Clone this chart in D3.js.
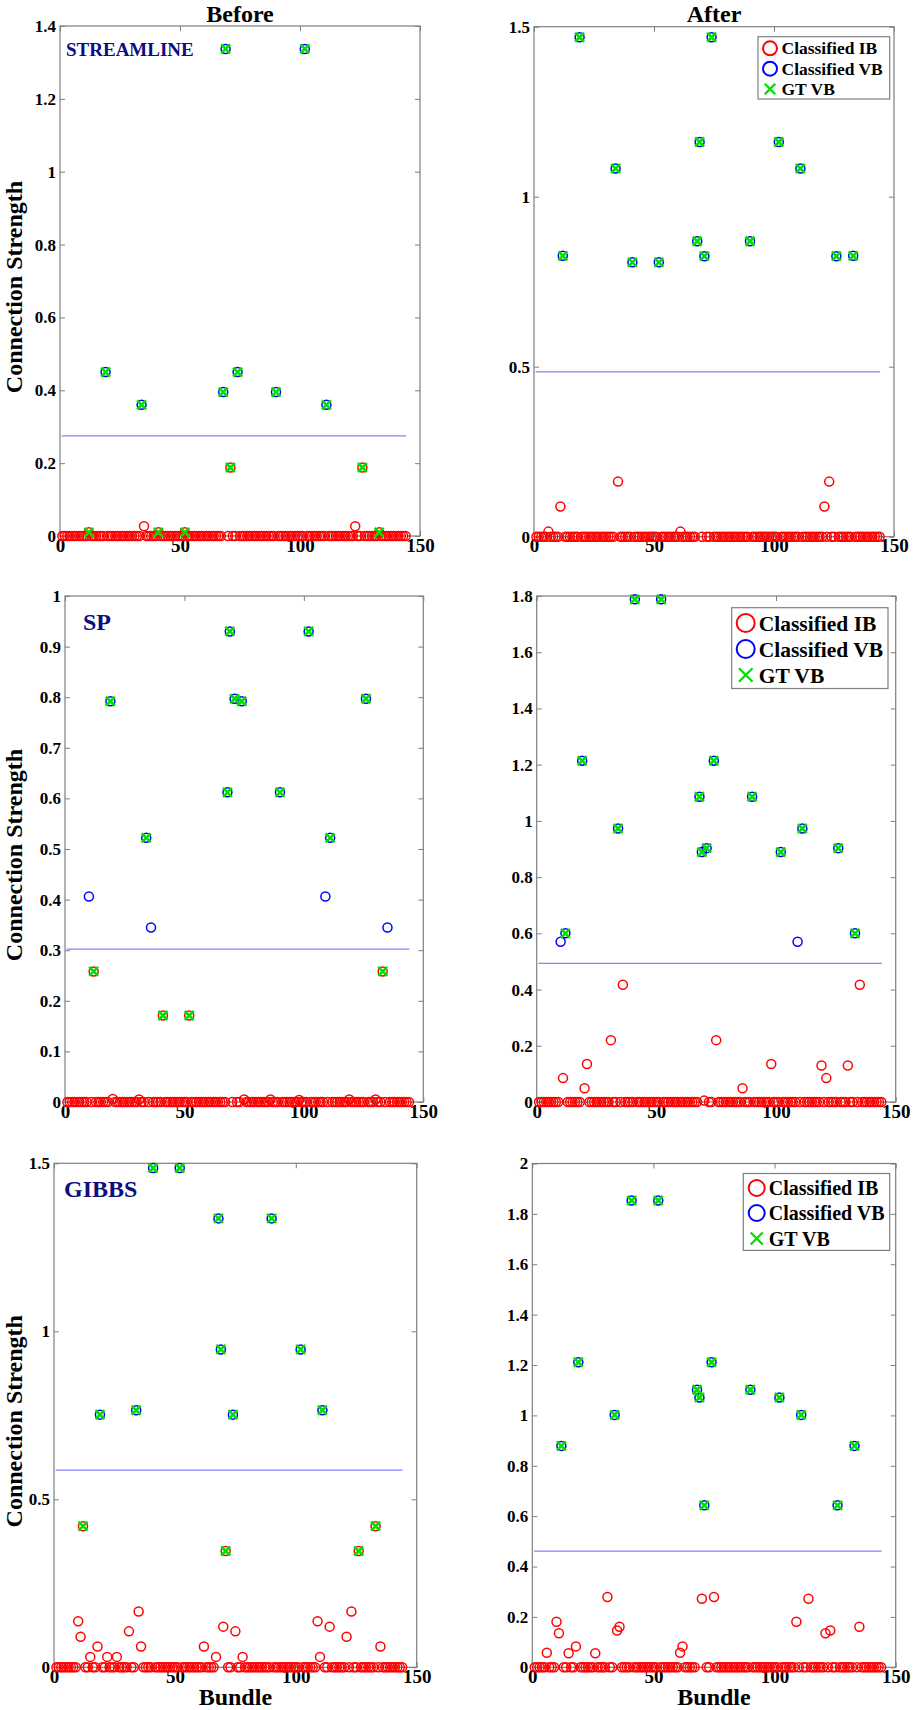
<!DOCTYPE html>
<html>
<head>
<meta charset="utf-8">
<script src="https://cdn.jsdelivr.net/npm/d3@7"></script>
<style>
  body { margin: 0; background: #fff; }
  .tick text { font-family: "Liberation Serif", serif; font-weight: bold; fill: #000; }
  .tick line { stroke: #7f7f7f; }
</style>
</head>
<body>
<script>
// page size
var w = 918;
var h = 1710;

// bundles run 1..144, any bundle not listed below sits at 0 as a classified IB
const nBundles = 144;
const xTicks = [0, 50, 100, 150];

// ---- STREAMLINE, before
const slBeforeVB = [[19, 0.45], [34, 0.36], [68, 0.395], [69, 1.337], [74, 0.45], [90, 0.395], [102, 1.337], [111, 0.36]];
const slBeforeMissed = [[12, 0.01], [41, 0.01], [52, 0.01], [71, 0.188], [126, 0.188], [133, 0.01]];
const slBeforeIB = [[35, 0.027], [123, 0.027]];
const slBeforeFalseVB = [];
const slBeforeThresh = 0.275;
const slBeforeTicks = [0, 0.2, 0.4, 0.6, 0.8, 1, 1.2, 1.4];

// ---- STREAMLINE, after
const slAfterVB = [[12, 0.826], [19, 1.469], [34, 1.083], [41, 0.807], [52, 0.807], [68, 0.869], [69, 1.161], [71, 0.825],
                   [74, 1.469], [90, 0.869], [102, 1.161], [111, 1.083], [126, 0.825], [133, 0.826]];
const slAfterMissed = [];
const slAfterIB = [[6, 0.015], [11, 0.089], [35, 0.162], [61, 0.015], [121, 0.089], [123, 0.162]];
const slAfterFalseVB = [];
const slAfterThresh = 0.485;
const slAfterTicks = [0, 0.5, 1, 1.5];

// ---- SP, before
const spBeforeVB = [[19, 0.792], [34, 0.522], [68, 0.612], [69, 0.93], [71, 0.797], [74, 0.792], [90, 0.612], [102, 0.93],
                    [111, 0.522], [126, 0.797]];
const spBeforeMissed = [[12, 0.258], [41, 0.171], [52, 0.171], [133, 0.258]];
const spBeforeIB = [[20, 0.006], [31, 0.005], [75, 0.005], [86, 0.005], [98, 0.004], [119, 0.005], [130, 0.005]];
const spBeforeFalseVB = [[10, 0.406], [36, 0.345], [109, 0.406], [135, 0.345]];
const spBeforeThresh = 0.302;
const spBeforeTicks = [0, 0.1, 0.2, 0.3, 0.4, 0.5, 0.6, 0.7, 0.8, 0.9, 1];

// ---- SP, after
const spAfterVB = [[12, 0.6], [19, 1.214], [34, 0.973], [41, 1.788], [52, 1.788], [68, 1.086], [69, 0.889], [71, 0.903],
                   [74, 1.214], [90, 1.086], [102, 0.889], [111, 0.973], [126, 0.903], [133, 0.6]];
const spAfterMissed = [];
const spAfterIB = [[11, 0.085], [20, 0.049], [21, 0.135], [31, 0.22], [36, 0.417], [70, 0.005], [75, 0.22], [86, 0.049],
                   [98, 0.135], [119, 0.13], [121, 0.085], [130, 0.13], [135, 0.417]];
const spAfterFalseVB = [[10, 0.57], [109, 0.57]];
const spAfterThresh = 0.493;
const spAfterTicks = [0, 0.2, 0.4, 0.6, 0.8, 1, 1.2, 1.4, 1.6, 1.8];

// ---- GIBBS, before
const gbBeforeVB = [[19, 0.752], [34, 0.765], [41, 1.486], [52, 1.486], [68, 1.336], [69, 0.946], [74, 0.752], [90, 1.336],
                    [102, 0.946], [111, 0.765]];
const gbBeforeMissed = [[12, 0.42], [71, 0.346], [126, 0.346], [133, 0.42]];
const gbBeforeIB = [[10, 0.137], [11, 0.091], [15, 0.031], [18, 0.062], [22, 0.031], [26, 0.031], [31, 0.107], [35, 0.166],
                    [36, 0.062], [62, 0.062], [67, 0.031], [70, 0.121], [75, 0.107], [78, 0.031], [109, 0.137], [110, 0.031],
                    [114, 0.121], [121, 0.091], [123, 0.166], [135, 0.062]];
const gbBeforeFalseVB = [];
const gbBeforeThresh = 0.587;
const gbBeforeTicks = [0, 0.5, 1, 1.5];

// ---- GIBBS, after
const gbAfterVB = [[12, 0.879], [19, 1.211], [34, 1.002], [41, 1.853], [52, 1.853], [68, 1.102], [69, 1.071], [71, 0.643],
                   [74, 1.211], [90, 1.102], [102, 1.071], [111, 1.002], [126, 0.643], [133, 0.879]];
const gbAfterMissed = [];
const gbAfterIB = [[6, 0.058], [10, 0.181], [11, 0.135], [15, 0.056], [18, 0.083], [26, 0.056], [31, 0.279], [35, 0.146],
                   [36, 0.161], [61, 0.058], [62, 0.083], [70, 0.272], [75, 0.279], [109, 0.181], [114, 0.272], [121, 0.135],
                   [123, 0.146], [135, 0.161]];
const gbAfterFalseVB = [];
const gbAfterThresh = 0.461;
const gbAfterTicks = [0, 0.2, 0.4, 0.6, 0.8, 1, 1.2, 1.4, 1.6, 1.8, 2];

const legendNames = ["Classified IB", "Classified VB", "GT VB"];

// colours
const red = "#ff0000", blue = "#0000ff", green = "#00e000", threshColor = "#8585ff", navy = "#0c0c84", frame = "#7f7f7f";
const serif = "'Liberation Serif', serif";

// panel frames + the data that goes in each
const panels = [
  { vb: slBeforeVB, missed: slBeforeMissed, ib: slBeforeIB, fvb: slBeforeFalseVB, thresh: slBeforeThresh, yTicks: slBeforeTicks,
    box: [60, 26, 420, 536], title: "Before", label: "STREAMLINE", lab: [6, 30, 19], yLabel: true },
  { vb: slAfterVB, missed: slAfterMissed, ib: slAfterIB, fvb: slAfterFalseVB, thresh: slAfterThresh, yTicks: slAfterTicks,
    box: [534, 26.7, 894, 536.7], title: "After",
    legend: { gapR: 4.3, gapT: 10, w: 131.7, h: 62.3, rows: [11.6, 32, 52.3], mx: 12, tx: 23.5, fs: 17.5, r: 7 } },
  { vb: spBeforeVB, missed: spBeforeMissed, ib: spBeforeIB, fvb: spBeforeFalseVB, thresh: spBeforeThresh, yTicks: spBeforeTicks,
    box: [65, 596, 423.3, 1102], label: "SP", lab: [18, 34, 24], yLabel: true },
  { vb: spAfterVB, missed: spAfterMissed, ib: spAfterIB, fvb: spAfterFalseVB, thresh: spAfterThresh, yTicks: spAfterTicks,
    box: [536.7, 596, 895.7, 1102],
    legend: { gapR: 7.7, gapT: 11.7, w: 156.3, h: 80.8, rows: [15.3, 41.3, 67.3], mx: 14, tx: 27, fs: 21.5, r: 9 } },
  { vb: gbBeforeVB, missed: gbBeforeMissed, ib: gbBeforeIB, fvb: gbBeforeFalseVB, thresh: gbBeforeThresh, yTicks: gbBeforeTicks,
    box: [54, 1163.3, 416.7, 1667.3], label: "GIBBS", lab: [10, 34, 24], yLabel: true, xLabel: true },
  { vb: gbAfterVB, missed: gbAfterMissed, ib: gbAfterIB, fvb: gbAfterFalseVB, thresh: gbAfterThresh, yTicks: gbAfterTicks,
    box: [532.3, 1163.5, 895.7, 1667.3], xLabel: true,
    legend: { gapR: 6, gapT: 10, w: 146.4, h: 76.9, rows: [14.5, 39.5, 65], mx: 13.4, tx: 25.5, fs: 20, r: 8 } }
];

const svg = d3.select("body")
  .append("svg")
  .attr("width", w)
  .attr("height", h);

// little marker helpers
function ring(g, color, r) {
  return g.append("circle").attr("r", r).attr("fill", "none").attr("stroke", color).attr("stroke-width", 1.5);
}
function cross(g, color, s, sw) {
  return g.append("path").attr("d", `M${-s},${-s}L${s},${s}M${-s},${s}L${s},${-s}`)
    .attr("fill", "none").attr("stroke", color).attr("stroke-width", sw);
}

panels.forEach(p => {
  const [x0, y0, x1, y1] = p.box;
  const xScale = d3.scaleLinear().domain([0, 150]).range([x0, x1]);
  const yScale = d3.scaleLinear().domain([0, d3.max(p.yTicks)]).range([y1, y0]);

  const g = svg.append("g");

  // axes with inward ticks on all four sides (matlab box)
  const fmt = d => String(+d.toFixed(2));
  g.append("g").attr("transform", `translate(${x0},0)`)
    .call(d3.axisLeft(yScale).tickValues(p.yTicks).tickFormat(fmt).tickSizeInner(-5).tickSizeOuter(0).tickPadding(4))
    .call(a => a.select(".domain").remove())
    .selectAll("text").style("font-size", "17px");
  g.append("g").attr("transform", `translate(${x1},0)`)
    .call(d3.axisRight(yScale).tickValues(p.yTicks).tickFormat("").tickSizeInner(-5).tickSizeOuter(0))
    .call(a => a.select(".domain").remove());
  g.append("g").attr("transform", `translate(0,${y1})`)
    .call(d3.axisBottom(xScale).tickValues(xTicks).tickSizeInner(-5).tickSizeOuter(0).tickPadding(2))
    .call(a => a.select(".domain").remove())
    .selectAll("text").style("font-size", "19px");
  g.append("g").attr("transform", `translate(0,${y0})`)
    .call(d3.axisTop(xScale).tickValues(xTicks).tickFormat("").tickSizeInner(-5).tickSizeOuter(0))
    .call(a => a.select(".domain").remove());

  g.append("rect")
    .attr("x", x0).attr("y", y0)
    .attr("width", x1 - x0).attr("height", y1 - y0)
    .attr("fill", "none").attr("stroke", frame).attr("stroke-width", 1.2);

  // threshold
  g.append("line")
    .attr("x1", xScale(0.7)).attr("x2", xScale(nBundles + 0.2))
    .attr("y1", yScale(p.thresh)).attr("y2", yScale(p.thresh))
    .attr("stroke", threshColor).attr("stroke-width", 1.3);

  // zero row: every bundle that has no other value
  const used = new Set([...p.vb, ...p.missed, ...p.ib, ...p.fvb].map(d => d[0]));
  const zeros = d3.range(1, nBundles + 1).filter(b => !used.has(b)).map(b => [b, 0]);

  const ibAll = zeros.concat(p.ib, p.missed);
  const vbAll = p.vb.concat(p.fvb);
  const gtAll = p.vb.concat(p.missed);

  g.append("g").selectAll("circle")
    .data(ibAll)
    .enter()
    .append("circle")
    .attr("cx", d => xScale(d[0]))
    .attr("cy", d => yScale(d[1]))
    .attr("r", 4.5)
    .attr("fill", "none")
    .attr("stroke", red)
    .attr("stroke-width", 1.5);

  g.append("g").selectAll("circle")
    .data(vbAll)
    .enter()
    .append("circle")
    .attr("cx", d => xScale(d[0]))
    .attr("cy", d => yScale(d[1]))
    .attr("r", 4.5)
    .attr("fill", "none")
    .attr("stroke", blue)
    .attr("stroke-width", 1.5);

  g.append("g").selectAll("path")
    .data(gtAll)
    .enter()
    .append("path")
    .attr("transform", d => `translate(${xScale(d[0])},${yScale(d[1])})`)
    .attr("d", "M-4.5,-4.5L4.5,4.5M-4.5,4.5L4.5,-4.5")
    .attr("fill", "none")
    .attr("stroke", green)
    .attr("stroke-width", 2.6);

  // titles and labels
  if (p.title) {
    g.append("text").attr("x", (x0 + x1) / 2).attr("y", 21.5)
      .attr("text-anchor", "middle")
      .style("font-family", serif).style("font-weight", "bold").style("font-size", "24px")
      .text(p.title);
  }
  if (p.label) {
    g.append("text").attr("x", x0 + p.lab[0]).attr("y", y0 + p.lab[1])
      .style("font-family", serif).style("font-weight", "bold").style("font-size", p.lab[2] + "px")
      .style("fill", navy)
      .text(p.label);
  }
  if (p.yLabel) {
    g.append("text")
      .attr("transform", `translate(22,${(y0 + y1) / 2 + 6}) rotate(-90)`)
      .attr("text-anchor", "middle")
      .style("font-family", serif).style("font-weight", "bold").style("font-size", "24px")
      .text("Connection Strength");
  }
  if (p.xLabel) {
    g.append("text").attr("x", (x0 + x1) / 2).attr("y", y1 + 38)
      .attr("text-anchor", "middle")
      .style("font-family", serif).style("font-weight", "bold").style("font-size", "24px")
      .text("Bundle");
  }

  // legend
  if (p.legend) {
    const L = p.legend;
    const lx = x1 - L.gapR - L.w, ly = y0 + L.gapT;
    const lg = g.append("g").attr("transform", `translate(${lx},${ly})`);
    lg.append("rect").attr("width", L.w).attr("height", L.h)
      .attr("fill", "#fff").attr("stroke", frame).attr("stroke-width", 1.2);
    legendNames.forEach((name, i) => {
      const row = lg.append("g").attr("transform", `translate(${L.mx},${L.rows[i]})`);
      if (i === 0) ring(row, red, L.r).attr("stroke-width", 2);
      if (i === 1) ring(row, blue, L.r).attr("stroke-width", 2);
      if (i === 2) cross(row, green, L.r * 0.75, 2.4);
      lg.append("text").attr("x", L.tx).attr("y", L.rows[i]).attr("dy", "0.35em")
        .style("font-family", serif).style("font-weight", "bold").style("font-size", L.fs + "px")
        .text(name);
    });
  }
});
</script>
</body>
</html>
